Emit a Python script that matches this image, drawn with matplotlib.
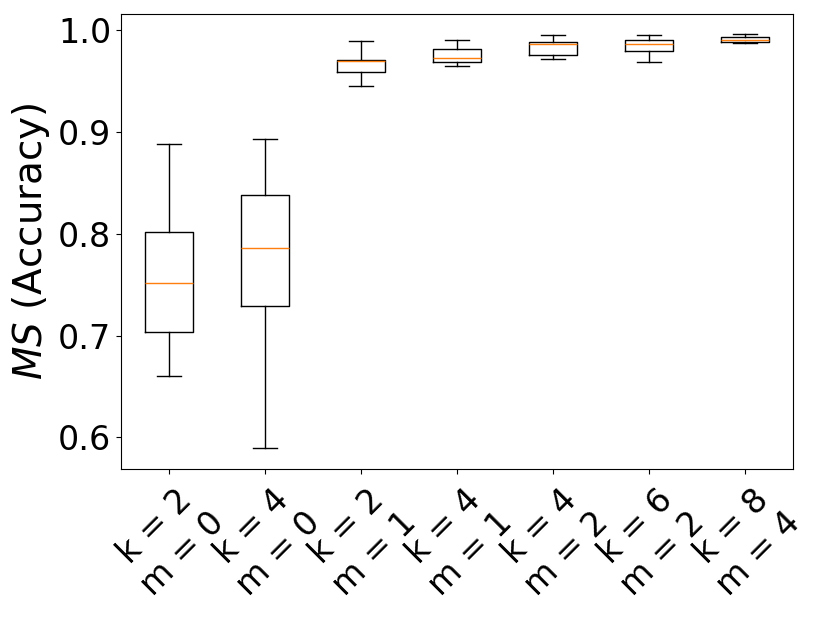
import matplotlib
matplotlib.use("Agg")
import matplotlib.pyplot as plt

labels = ["k = 2\nm = 0", "k = 4\nm = 0", "k = 2\nm = 1", "k = 4\nm = 1",
          "k = 4\nm = 2", "k = 6\nm = 2", "k = 8\nm = 4"]
whislo = [0.6608, 0.5894, 0.9443, 0.9648, 0.9717, 0.9687, 0.9873]
q1     = [0.7031, 0.7285, 0.9589, 0.9684, 0.9756, 0.9795, 0.9883]
med    = [0.7517, 0.7859, 0.9690, 0.9726, 0.9856, 0.9856, 0.9902]
q3     = [0.8016, 0.8374, 0.9707, 0.9814, 0.9883, 0.9902, 0.9932]
whishi = [0.8876, 0.8925, 0.9892, 0.9902, 0.9944, 0.9944, 0.9954]

stats = []
for i in range(len(labels)):
    stats.append(dict(label=labels[i], whislo=whislo[i], q1=q1[i], med=med[i],
                      q3=q3[i], whishi=whishi[i], fliers=[]))

fig = plt.figure(figsize=(8.19, 6.2), dpi=100)
ax = fig.add_axes([121/819, 1-469/620, (793-121)/819, (469-13.7)/620])
ax.bxp(stats, showfliers=False)
ax.set_ylabel("$MS$ (Accuracy)", fontsize=28)
ax.tick_params(axis='both', labelsize=24)
plt.setp(ax.get_xticklabels(), rotation=45)
fig.savefig("out.png", dpi=100)
